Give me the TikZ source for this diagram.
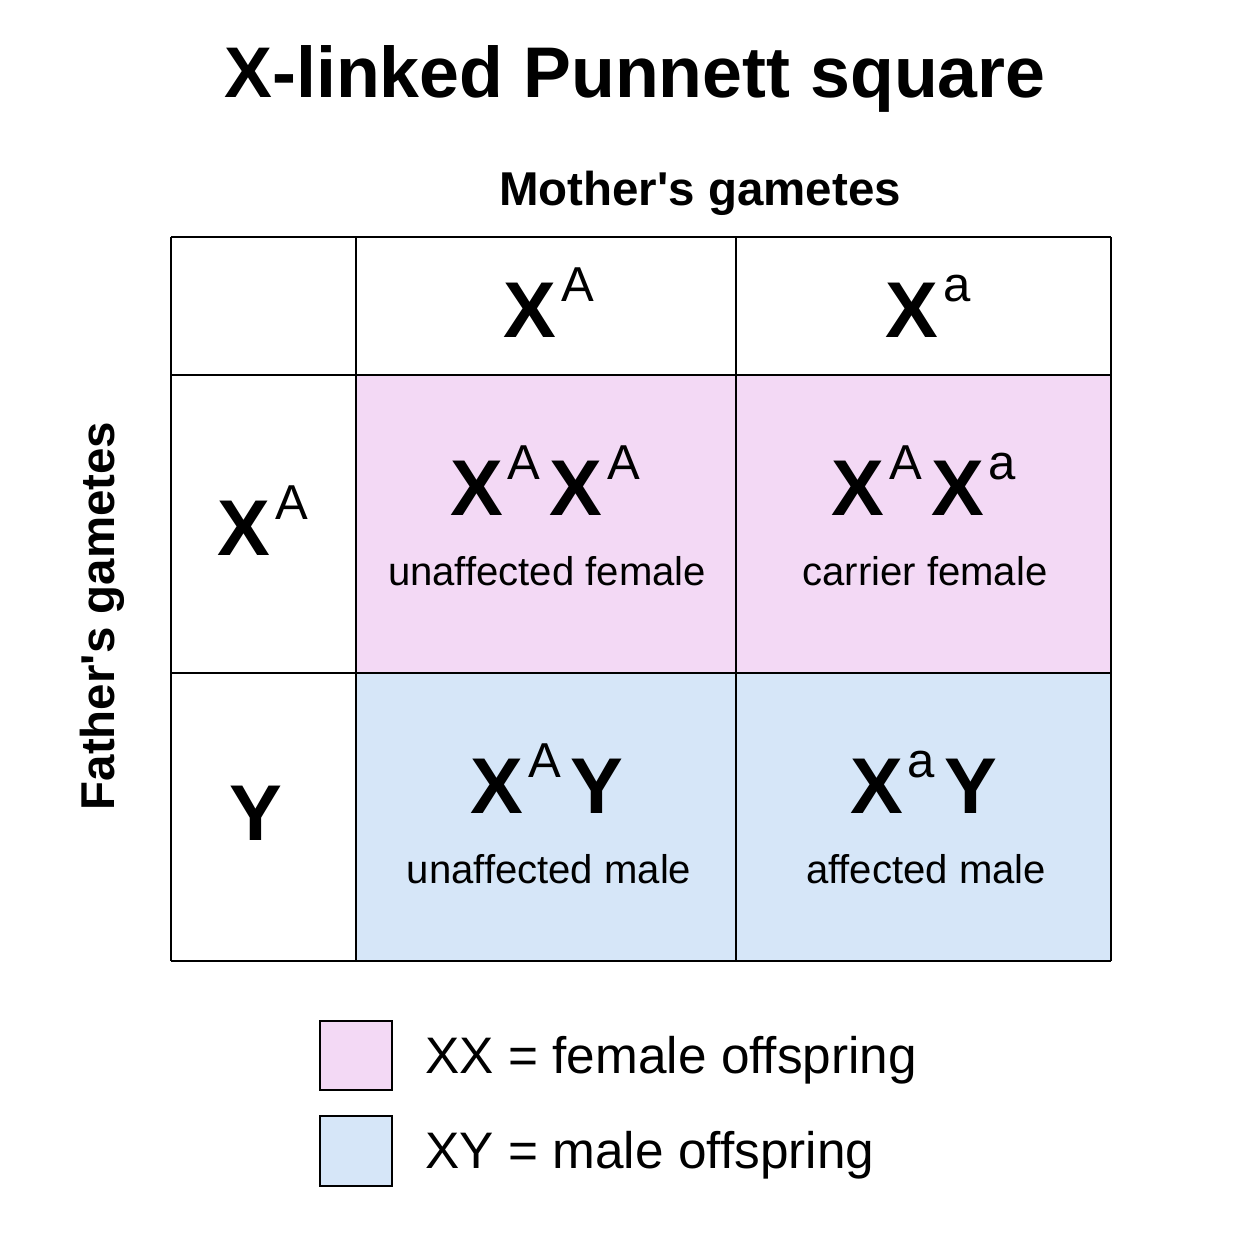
\documentclass[tikz,border=0pt]{standalone}
\usepackage{fontspec}
\setmainfont{Liberation Sans}
\usepackage{graphicx}

\definecolor{femalepink}{HTML}{F3D9F5}
\definecolor{maleblue}{HTML}{D6E6F8}

% allele as superscript
\newcommand{\al}[1]{\hspace{0.06em}\raisebox{0.45em}{\scalebox{0.62}{\mdseries #1}}\hspace{0.12em}}

\begin{document}
\begin{tikzpicture}[x=0.01cm,y=-0.01cm]
\tikzstyle{every node}=[inner sep=0pt, anchor=base]
\tikzstyle{gridline}=[line width=0.75pt, black]
\tikzstyle{titletext}=[font=\fontsize{20.4}{24}\selectfont\bfseries]
\tikzstyle{axistext}=[font=\fontsize{13.5}{16}\selectfont\bfseries]
\tikzstyle{geno}=[font=\fontsize{22.5}{26}\selectfont\bfseries]
\tikzstyle{lbl}=[font=\fontsize{11.4}{14}\selectfont]
\tikzstyle{legtext}=[font=\fontsize{14.6}{17}\selectfont, anchor=base west]
\tikzstyle{legbox}=[line width=0.6pt, draw=black]

\useasboundingbox (0,0) rectangle (1254,1254);

% cell colours
\fill[femalepink] (356,375) rectangle (1111,673);
\fill[maleblue] (356,673) rectangle (1111,961);

% grid
\foreach \x in {171,356,736,1111}
\draw[gridline] (\x,237) -- (\x,961);
\foreach \y in {237,375,673,961}
\draw[gridline] (171,\y) -- (1111,\y);

\node[titletext] (title) at (635,97) {X-linked Punnett square};
\node[axistext] (mother) at (700,205) {Mother\textquotesingle s gametes};
\node[axistext, rotate=90] (father) at (114,616) {Father\textquotesingle s gametes};

% gametes
\node[geno] (mA) at (549,337) {X\al{A}};
\node[geno] (ma) at (928,337) {X\al{a}};
\node[geno] (fA) at (263,555) {X\al{A}};
\node[geno] (fY) at (256,840) {Y};

% offspring
\node[geno] (g11) at (545,515) {X\al{A}X\al{A}};
\node[lbl] (l11) at (547,585) {unaffected female};
\node[geno] (g12) at (924,515) {X\al{A}X\al{a}};
\node[lbl] (l12) at (925,585) {carrier female};
\node[geno] (g21) at (547,813) {X\al{A}Y};
\node[lbl] (l21) at (549,883) {unaffected male};
\node[geno] (g22) at (924,813) {X\al{a}Y};
\node[lbl] (l22) at (926,883) {affected male};

% legend
\draw[legbox, fill=femalepink] (320,1021) rectangle (392,1090);
\draw[legbox, fill=maleblue] (320,1116) rectangle (392,1186);
\node[legtext] (leg1) at (425,1073) {XX = female offspring};
\node[legtext] (leg2) at (425,1168) {XY = male offspring};

\end{tikzpicture}
\end{document}
